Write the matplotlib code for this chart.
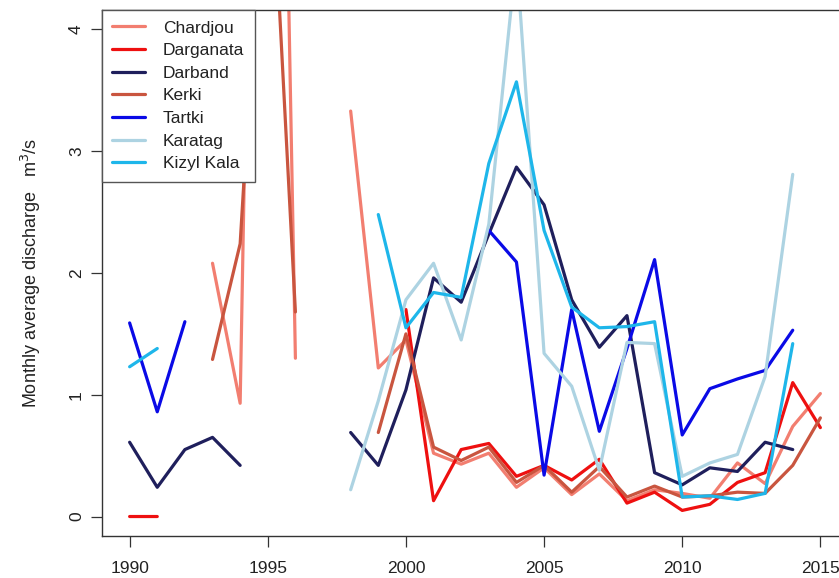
import numpy as np
import matplotlib
matplotlib.use('Agg')
import matplotlib.pyplot as plt

nan = np.nan

# ---- data ----
years = list(range(1990, 2016))

chardjou = [nan, nan, nan, 2.08, 0.93, 13.4, 1.30, nan, 3.33, 1.22,
            1.45, 0.52, 0.43, 0.52, 0.24, 0.40, 0.18, 0.35, 0.13, 0.22,
            0.19, 0.15, 0.44, 0.27, 0.74, 1.01]
darganata = [0.0, 0.0, nan, nan, nan, nan, nan, nan, nan, nan,
             1.70, 0.13, 0.55, 0.60, 0.33, 0.42, 0.30, 0.47, 0.11, 0.20,
             0.05, 0.10, 0.28, 0.36, 1.10, 0.73]
darband = [0.61, 0.24, 0.55, 0.65, 0.42, nan, nan, nan, 0.69, 0.42,
           1.04, 1.96, 1.76, 2.32, 2.87, 2.56, 1.78, 1.39, 1.65, 0.36,
           0.26, 0.40, 0.37, 0.61, 0.55, nan]
kerki = [nan, nan, nan, 1.29, 2.24, 6.0, 1.68, nan, nan, 0.69,
         1.50, 0.57, 0.46, 0.57, 0.28, 0.42, 0.20, 0.41, 0.16, 0.25,
         0.16, 0.17, 0.20, 0.19, 0.42, 0.81]
tartki = [1.59, 0.86, 1.60, nan, nan, nan, nan, nan, nan, nan,
          nan, nan, nan, 2.35, 2.09, 0.34, 1.70, 0.70, 1.38, 2.11,
          0.67, 1.05, 1.13, 1.20, 1.53, nan]
karatag = [nan, nan, nan, nan, nan, nan, nan, nan, 0.22, 0.95,
           1.78, 2.08, 1.45, 2.40, 4.60, 1.34, 1.07, 0.38, 1.43, 1.42,
           0.33, 0.44, 0.51, 1.15, 2.81, nan]
kizyl_kala = [1.23, 1.38, nan, nan, nan, nan, nan, nan, nan, 2.48,
              1.55, 1.84, 1.80, 2.90, 3.57, 2.35, 1.72, 1.55, 1.56, 1.60,
              0.16, 0.17, 0.14, 0.19, 1.42, nan]

stations = ['Chardjou', 'Darganata', 'Darband', 'Kerki', 'Tartki', 'Karatag', 'Kizyl Kala']
series = [chardjou, darganata, darband, kerki, tartki, karatag, kizyl_kala]
colors = ['#F27E70', '#EE1010', '#1F1F5C', '#C9553F', '#0A0AE6', '#ADD3E2', '#1EB6EA']

TXT = '#222222'
plt.rcParams['font.family'] = ['Liberation Sans', 'DejaVu Sans']

fig = plt.figure(figsize=(8.39, 5.78), dpi=100, facecolor='white')
# right edge of the frame sits just past the picture (cropped like the original)
ax = fig.add_axes([102 / 839, 42 / 578, 746 / 839, 526 / 578])

for name, vals, col in zip(stations, series, colors):
    ax.plot(years, vals, color=col, lw=2.3, label=name,
            solid_capstyle='round', solid_joinstyle='round')

ax.set_xlim(1989, 2016)
ax.set_ylim(-0.16, 4.16)
ax.set_xticks([1990, 1995, 2000, 2005, 2010, 2015])
ax.set_yticks([0, 1, 2, 3, 4])
ax.tick_params(axis='both', direction='out', length=8, width=0.9, color='#333333',
               labelsize=12.5, labelcolor=TXT)
ax.tick_params(axis='x', pad=10)
ax.tick_params(axis='y', pad=5)
for lab in ax.get_yticklabels():
    lab.set_rotation(90)
    lab.set_va('center')
for sp in ax.spines.values():
    sp.set_color('#333333')
    sp.set_linewidth(1.0)

ax.set_ylabel('Monthly average discharge   m$^3$/s', fontsize=13, color=TXT, labelpad=19)

leg = ax.legend(loc='upper left', bbox_to_anchor=(0, 1), borderaxespad=0,
                fancybox=False, edgecolor='#555555', fontsize=12.5,
                handlelength=1.9, handletextpad=1.0, labelspacing=0.43,
                borderpad=0.6, framealpha=1)
leg.get_frame().set_linewidth(1.0)
for t in leg.get_texts():
    t.set_color(TXT)

fig.savefig('out.png', dpi=100, facecolor='white')
